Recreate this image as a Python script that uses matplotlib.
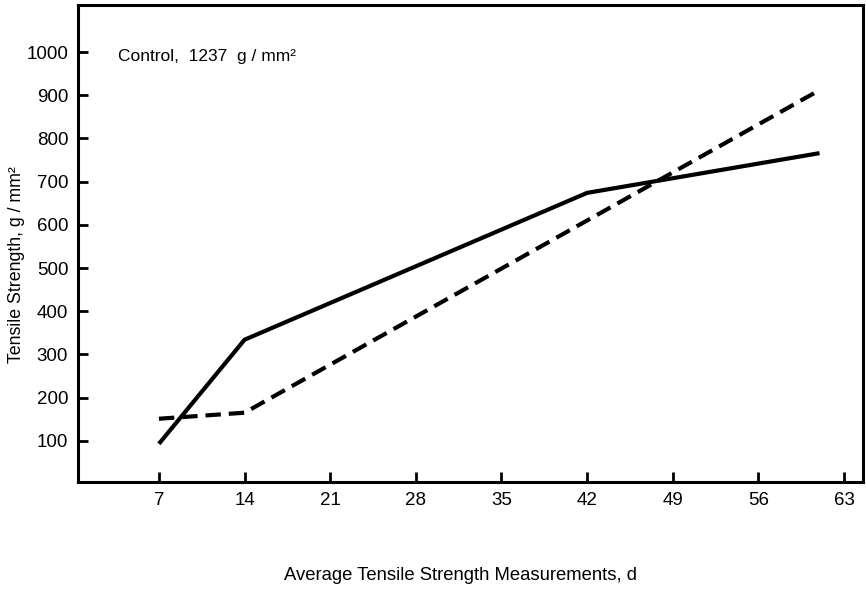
import numpy as np
import matplotlib.pyplot as plt

plt.rcParams['font.family'] = ['Liberation Sans', 'DejaVu Sans']

# Data
days_solid = np.array([7, 14, 42, 61])
strength_solid = np.array([93, 334, 674, 766])  # [g/mm2]
days_dashed = np.array([7, 14, 61])
strength_dashed = np.array([151, 165, 912])  # [g/mm2]
xticks = [7, 14, 21, 28, 35, 42, 49, 56, 63]
yticks = [100, 200, 300, 400, 500, 600, 700, 800, 900, 1000]

fig = plt.figure(figsize=(8.66, 5.89), dpi=100)
ax = fig.add_axes([0.090, 0.182, 0.9065, 0.8095])

ax.plot(days_solid, strength_solid, color='black', lw=3.0, solid_capstyle='butt')
ax.plot(days_dashed, strength_dashed, color='black', lw=3.0,
        linestyle=(0, (3.7, 1.9)), dash_capstyle='butt')

ax.set_xlim(0.38, 64.55)
ax.set_ylim(5, 1109)
ax.set_xticks(xticks)
ax.set_yticks(yticks)
ax.tick_params(direction='in', length=7, width=2, labelsize=13.5, pad=7)
for s in ax.spines.values():
    s.set_linewidth(2.2)

ax.text(0.051, 0.891, 'Control,  1237  g / mm\u00b2', transform=ax.transAxes,
        fontsize=12.5, va='center', ha='left')

ax.set_xlabel('Average Tensile Strength Measurements, d', fontsize=13.3)
ax.xaxis.set_label_coords(0.487, -0.196)
ax.xaxis.label.set_va('center')
ax.set_ylabel('Tensile Strength, g / mm\u00b2', fontsize=12.8)
ax.yaxis.set_label_coords(-0.078, 0.455)
ax.yaxis.label.set_va('center')

plt.savefig('out.png', dpi=100)
